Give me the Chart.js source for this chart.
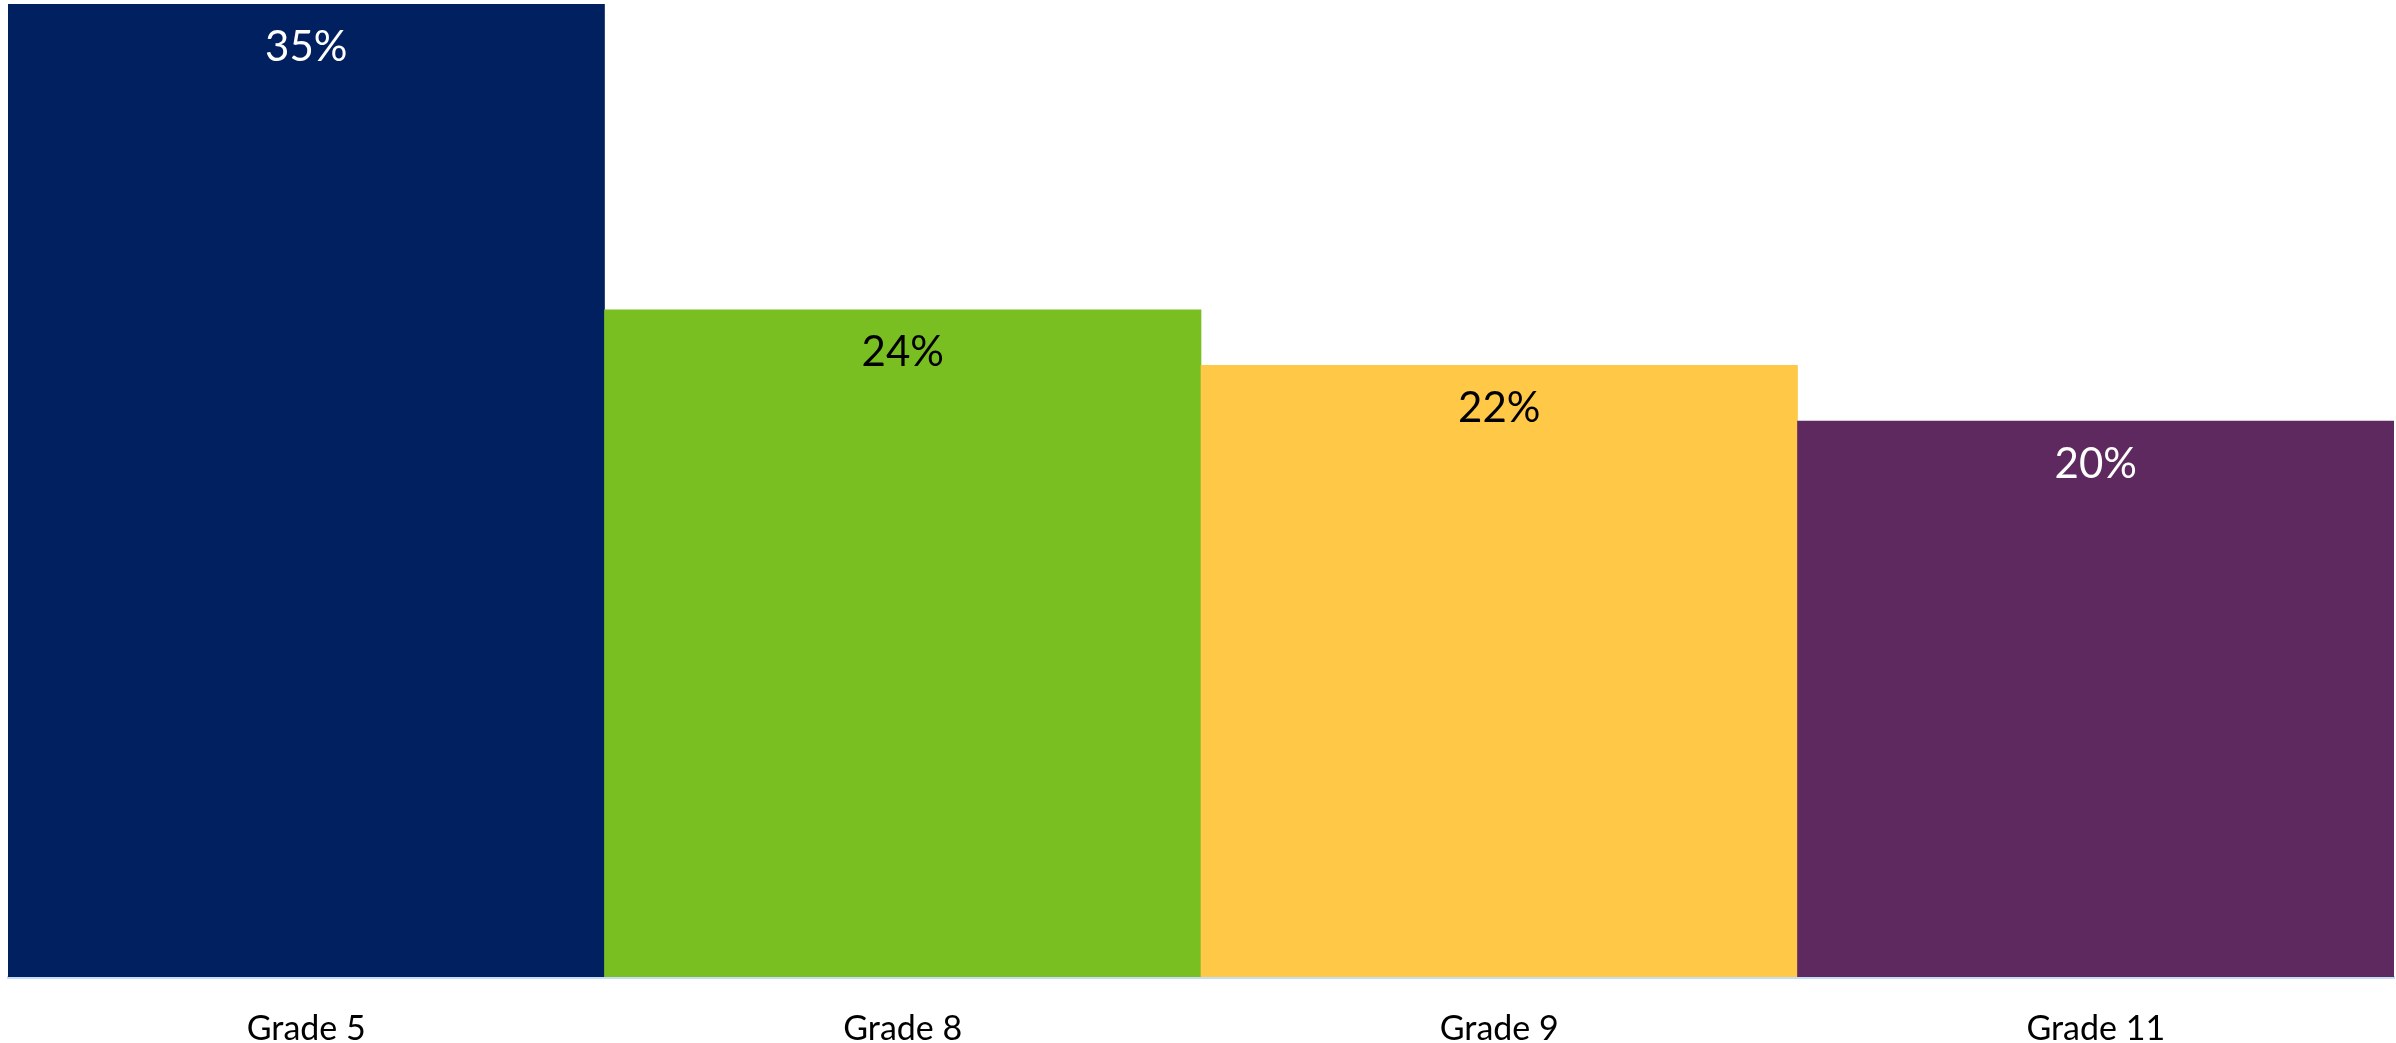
<!DOCTYPE html>
<html>
<head>
<meta charset="utf-8">
<script src="https://cdn.jsdelivr.net/npm/chart.js@4/dist/chart.umd.min.js"></script>
<style>
  html, body { margin: 0; padding: 0; background: #ffffff; }
  #wrap { width: 2396px; height: 1043px; }
</style>
</head>
<body>
<div id="wrap"><canvas id="chart" width="2396" height="1043"></canvas></div>
<script>
// Share of students by grade
const grades = ['Grade 5', 'Grade 8', 'Grade 9', 'Grade 11'];
const shares = [35, 24, 22, 20];
const barColors = ['#002060', '#7ABF21', '#FFC846', '#5E295E'];
const labelColors = ['#ffffff', '#000000', '#000000', '#ffffff'];

const FONT = 'Lato, "Open Sans", "Noto Sans", sans-serif';

// Draws each bar's percentage just inside its top edge
const valueLabels = {
  id: 'valueLabels',
  afterDatasetsDraw(chart) {
    const ctx = chart.ctx;
    const meta = chart.getDatasetMeta(0);
    ctx.save();
    ctx.font = '42px ' + FONT;
    ctx.textAlign = 'center';
    ctx.textBaseline = 'middle';
    meta.data.forEach((bar, i) => {
      ctx.fillStyle = labelColors[i];
      ctx.fillText(shares[i] + '%', bar.x, bar.y + 43);
    });
    ctx.restore();
  }
};

new Chart(document.getElementById('chart'), {
  type: 'bar',
  data: {
    labels: grades,
    datasets: [{
      data: shares,
      backgroundColor: barColors,
      borderWidth: 0,
      categoryPercentage: 1.0,
      barPercentage: 1.0
    }]
  },
  options: {
    responsive: false,
    animation: false,
    devicePixelRatio: 1,
    layout: { padding: { left: 8, right: 2, top: 4, bottom: 0 } },
    plugins: {
      legend: { display: false },
      tooltip: { enabled: false },
      title: { display: false }
    },
    scales: {
      x: {
        grid: { display: false },
        border: { display: true, color: '#C5DEF5', width: 3 },
        ticks: {
          color: '#000000',
          padding: 24,
          font: { family: FONT, size: 34 }
        },
        afterFit(scale) { scale.height = 66; }
      },
      y: {
        display: false,
        min: 0,
        max: 35
      }
    }
  },
  plugins: [valueLabels]
});
</script>
</body>
</html>
